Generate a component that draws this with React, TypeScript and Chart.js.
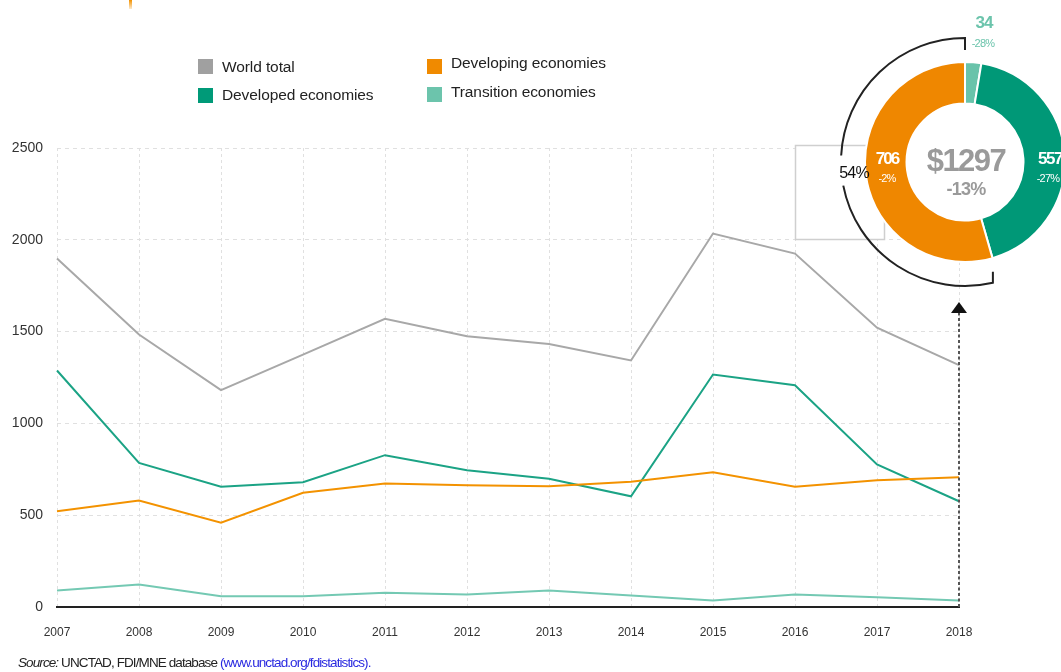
import React, { useEffect, useRef } from "react";
import { Chart, registerables } from "chart.js";

Chart.register(...registerables);

// ---- data ----
const years = ["2007", "2008", "2009", "2010", "2011", "2012", "2013", "2014", "2015", "2016", "2017", "2018"];
const worldTotal = [1898, 1484, 1181, 1375, 1570, 1475, 1432, 1343, 2034, 1925, 1521, 1317];
const developedEconomies = [1288, 785, 655, 680, 827, 745, 698, 603, 1266, 1208, 776, 576];
const developingEconomies = [522, 580, 459, 622, 673, 663, 658, 682, 734, 655, 690, 707];
const transitionEconomies = [90, 123, 59, 59, 77, 68, 90, 63, 35, 68, 53, 35];

const yMin = 0;
const yMax = 2500;
const yStep = 500;

const donutLabels = ["Transition economies", "Developed economies", "Developing economies"];
const donutValues = [34, 557, 706];
const donutChanges = ["-28%", "-27%", "-2%"];
const donutTotal = "$1297";
const donutTotalChange = "-13%";
const developingShare = "54%";

const legendItems = [
  { label: "World total", color: "#a0a0a0" },
  { label: "Developed economies", color: "#009a78" },
  { label: "Developing economies", color: "#f08a00" },
  { label: "Transition economies", color: "#6cc4ac" },
];

const FONT = '"Liberation Sans", Arial, sans-serif';

const COLORS = {
  world: "#a8a8a8",
  developed: "#1ba385",
  developing: "#f39200",
  transition: "#74c9b3",
};

const arrowPlugin = {
  id: "arrowToDonut",
  afterDatasetsDraw(chart: any) {
    const { ctx, scales } = chart;
    const x = scales.x;
    const y = scales.y;
    const px = x.getPixelForValue(years.length - 1);
    const yBottom = y.getPixelForValue(0);
    const yTop = 313;
    ctx.save();
    ctx.strokeStyle = "#555";
    ctx.lineWidth = 2;
    ctx.setLineDash([3, 2.5]);
    ctx.beginPath();
    ctx.moveTo(px, yBottom);
    ctx.lineTo(px, yTop);
    ctx.stroke();
    ctx.setLineDash([]);
    ctx.fillStyle = "#111";
    ctx.beginPath();
    ctx.moveTo(px, yTop - 11);
    ctx.lineTo(px - 8, yTop);
    ctx.lineTo(px + 8, yTop);
    ctx.closePath();
    ctx.fill();
    ctx.restore();
  },
};

const holePlugin = {
  id: "whiteHole",
  beforeDatasetsDraw(chart: any) {
    const meta = chart.getDatasetMeta(0);
    const arc = meta.data[0];
    if (!arc) return;
    const { ctx } = chart;
    ctx.save();
    ctx.fillStyle = "#fff";
    ctx.beginPath();
    ctx.arc(arc.x, arc.y, arc.innerRadius, 0, Math.PI * 2);
    ctx.fill();
    ctx.restore();
  },
};

function LineChart() {
  const ref = useRef<HTMLCanvasElement | null>(null);
  useEffect(() => {
    if (!ref.current) return;
    const mk = (label: string, data: number[], color: string) => ({
      label,
      data,
      borderColor: color,
      backgroundColor: color,
      borderWidth: 2,
      pointRadius: 0,
      tension: 0,
      fill: false,
    });
    const chart = new Chart(ref.current, {
      type: "line",
      data: {
        labels: years,
        datasets: [
          mk("Transition economies", transitionEconomies, COLORS.transition),
          mk("Developing economies", developingEconomies, COLORS.developing),
          mk("Developed economies", developedEconomies, COLORS.developed),
          mk("World total", worldTotal, COLORS.world),
        ],
      },
      options: {
        responsive: false,
        animation: false,
        events: [],
        layout: { padding: { left: 0, top: 148, right: 102, bottom: 0 } },
        plugins: { legend: { display: false }, tooltip: { enabled: false } },
        scales: {
          x: {
            offset: false,
            afterFit: (s: any) => {
              s.height = 65;
            },
            grid: { color: "#e0e0e0", lineWidth: 1, drawTicks: false },
            border: { display: true, color: "#222", width: 2, dash: [3, 3] },
            ticks: {
              autoSkip: false,
              maxRotation: 0,
              padding: 18,
              color: "#333",
              font: { family: FONT, size: 12 },
            },
          },
          y: {
            min: yMin,
            max: yMax,
            afterFit: (s: any) => {
              s.width = 57;
            },
            grid: {
              color: (c: any) => (c.tick && c.tick.value === 0 ? "rgba(0,0,0,0)" : "#e0e0e0"),
              lineWidth: 1,
              drawTicks: false,
            },
            border: { display: false, dash: [4, 4] },
            ticks: {
              stepSize: yStep,
              padding: 14,
              color: "#333",
              font: { family: FONT, size: 14 },
              callback: (v: any) => String(v),
            },
          },
        },
      },
      plugins: [arrowPlugin],
    } as any);
    return () => chart.destroy();
  }, []);
  return (
    <canvas
      ref={ref}
      width={1061}
      height={672}
      style={{ position: "absolute", left: 0, top: 0, display: "block" }}
    />
  );
}

function DonutChart() {
  const ref = useRef<HTMLCanvasElement | null>(null);
  useEffect(() => {
    if (!ref.current) return;
    const chart = new Chart(ref.current, {
      type: "doughnut",
      data: {
        labels: donutLabels,
        datasets: [
          {
            data: donutValues,
            backgroundColor: ["#69c3aa", "#009877", "#ef8700"],
            borderColor: "#ffffff",
            borderWidth: 2,
          },
        ],
      },
      options: {
        responsive: false,
        animation: false,
        events: [],
        cutout: "58.5%",
        layout: { padding: 0 },
        plugins: { legend: { display: false }, tooltip: { enabled: false } },
      },
      plugins: [holePlugin],
    } as any);
    return () => chart.destroy();
  }, []);
  return (
    <canvas
      ref={ref}
      width={202}
      height={202}
      style={{ position: "absolute", left: 864, top: 61, display: "block" }}
    />
  );
}

function Txt(props: {
  x: number;
  y: number;
  size: number;
  color: string;
  bold?: boolean;
  ls?: number;
  children: React.ReactNode;
  align?: "center" | "left";
}) {
  const { x, y, size, color, bold, ls, children, align = "center" } = props;
  return (
    <div
      style={{
        position: "absolute",
        left: x,
        top: y,
        transform: align === "center" ? "translate(-50%, -50%)" : "translate(0, -50%)",
        fontFamily: FONT,
        fontSize: size,
        fontWeight: bold ? 700 : 400,
        color,
        letterSpacing: ls ?? 0,
        whiteSpace: "nowrap",
        lineHeight: 1,
      }}
    >
      {children}
    </div>
  );
}

export default function App() {
  const cx = 965;
  const cy = 162;
  const r = 124;
  const pt = (deg: number) => {
    const a = (deg * Math.PI) / 180;
    return [cx + r * Math.cos(a), cy + r * Math.sin(a)];
  };
  const [a1x, a1y] = pt(270);
  const [b1x, b1y] = pt(183);
  const [a2x, a2y] = pt(169);
  const [b2x, b2y] = pt(77);

  const legendPos = [
    { sx: 198, sy: 59, ty: 67 },
    { sx: 198, sy: 88, ty: 95 },
    { sx: 427, sy: 59, ty: 63 },
    { sx: 427, sy: 87, ty: 92 },
  ];

  return (
    <div
      style={{
        position: "fixed",
        left: 0,
        top: 0,
        width: 1061,
        height: 672,
        overflow: "hidden",
        background: "#fff",
        fontFamily: FONT,
      }}
    >
      <LineChart />

      {/* small orange mark at top */}
      <div style={{ position: "absolute", left: 129, top: 0, width: 3, height: 9, background: "linear-gradient(#f39200, rgba(243,146,0,0.2))" }} />

      {/* legend */}
      {legendItems.map((it, i) => (
        <React.Fragment key={it.label}>
          <div
            style={{
              position: "absolute",
              left: legendPos[i].sx,
              top: legendPos[i].sy,
              width: 15,
              height: 15,
              background: it.color,
            }}
          />
          <Txt x={legendPos[i].sx + 24} y={legendPos[i].ty} size={15.5} color="#222" ls={-0.1} align="left">
            {it.label}
          </Txt>
        </React.Fragment>
      ))}

      {/* gray frame */}
      <svg width={1061} height={672} style={{ position: "absolute", left: 0, top: 0 }}>
        <rect x={795.5} y={145.5} width={89} height={94} fill="#fff" stroke="#cfcfcf" strokeWidth={1.5} />
      </svg>

      <DonutChart />

      {/* bracket around developing share */}
      <svg width={1061} height={672} style={{ position: "absolute", left: 0, top: 0 }}>
        <path
          d={`M ${cx} 50 L ${a1x} ${a1y} A ${r} ${r} 0 0 0 ${b1x} ${b1y}`}
          fill="none"
          stroke="#222"
          strokeWidth={2}
        />
        <path
          d={`M ${a2x} ${a2y} A ${r} ${r} 0 0 0 ${b2x} ${b2y} L ${b2x} ${b2y - 11}`}
          fill="none"
          stroke="#222"
          strokeWidth={2}
        />
      </svg>

      <Txt x={854} y={173} size={16} color="#111" ls={-0.8}>{developingShare}</Txt>

      <Txt x={966} y={160} size={31} color="#9a9a9a" bold ls={-1.5}>{donutTotal}</Txt>
      <Txt x={966} y={189} size={18} color="#9a9a9a" bold ls={-0.8}>{donutTotalChange}</Txt>

      <Txt x={887} y={158} size={17} color="#fff" bold ls={-2}>{donutValues[2]}</Txt>
      <Txt x={887} y={178} size={11} color="#fff" ls={-0.8}>{donutChanges[2]}</Txt>

      <Txt x={1050} y={158} size={17} color="#fff" bold ls={-1.5}>{donutValues[1]}</Txt>
      <Txt x={1048} y={178} size={11} color="#fff" ls={-0.8}>{donutChanges[1]}</Txt>

      <Txt x={984} y={22} size={17} color="#6cc4ac" bold ls={-1}>{donutValues[0]}</Txt>
      <Txt x={983} y={43} size={11} color="#6cc4ac" ls={-0.8}>{donutChanges[0]}</Txt>

      {/* source */}
      <div
        style={{
          position: "absolute",
          left: 18,
          top: 656,
          fontFamily: FONT,
          fontSize: 13.5,
          letterSpacing: -0.9,
          color: "#222",
          whiteSpace: "nowrap",
          lineHeight: 1,
        }}
      >
        <i>Source:</i> UNCTAD, FDI/MNE database <span style={{ color: "#2a2ae0" }}>(www.unctad.org/fdistatistics).</span>
      </div>
    </div>
  );
}
